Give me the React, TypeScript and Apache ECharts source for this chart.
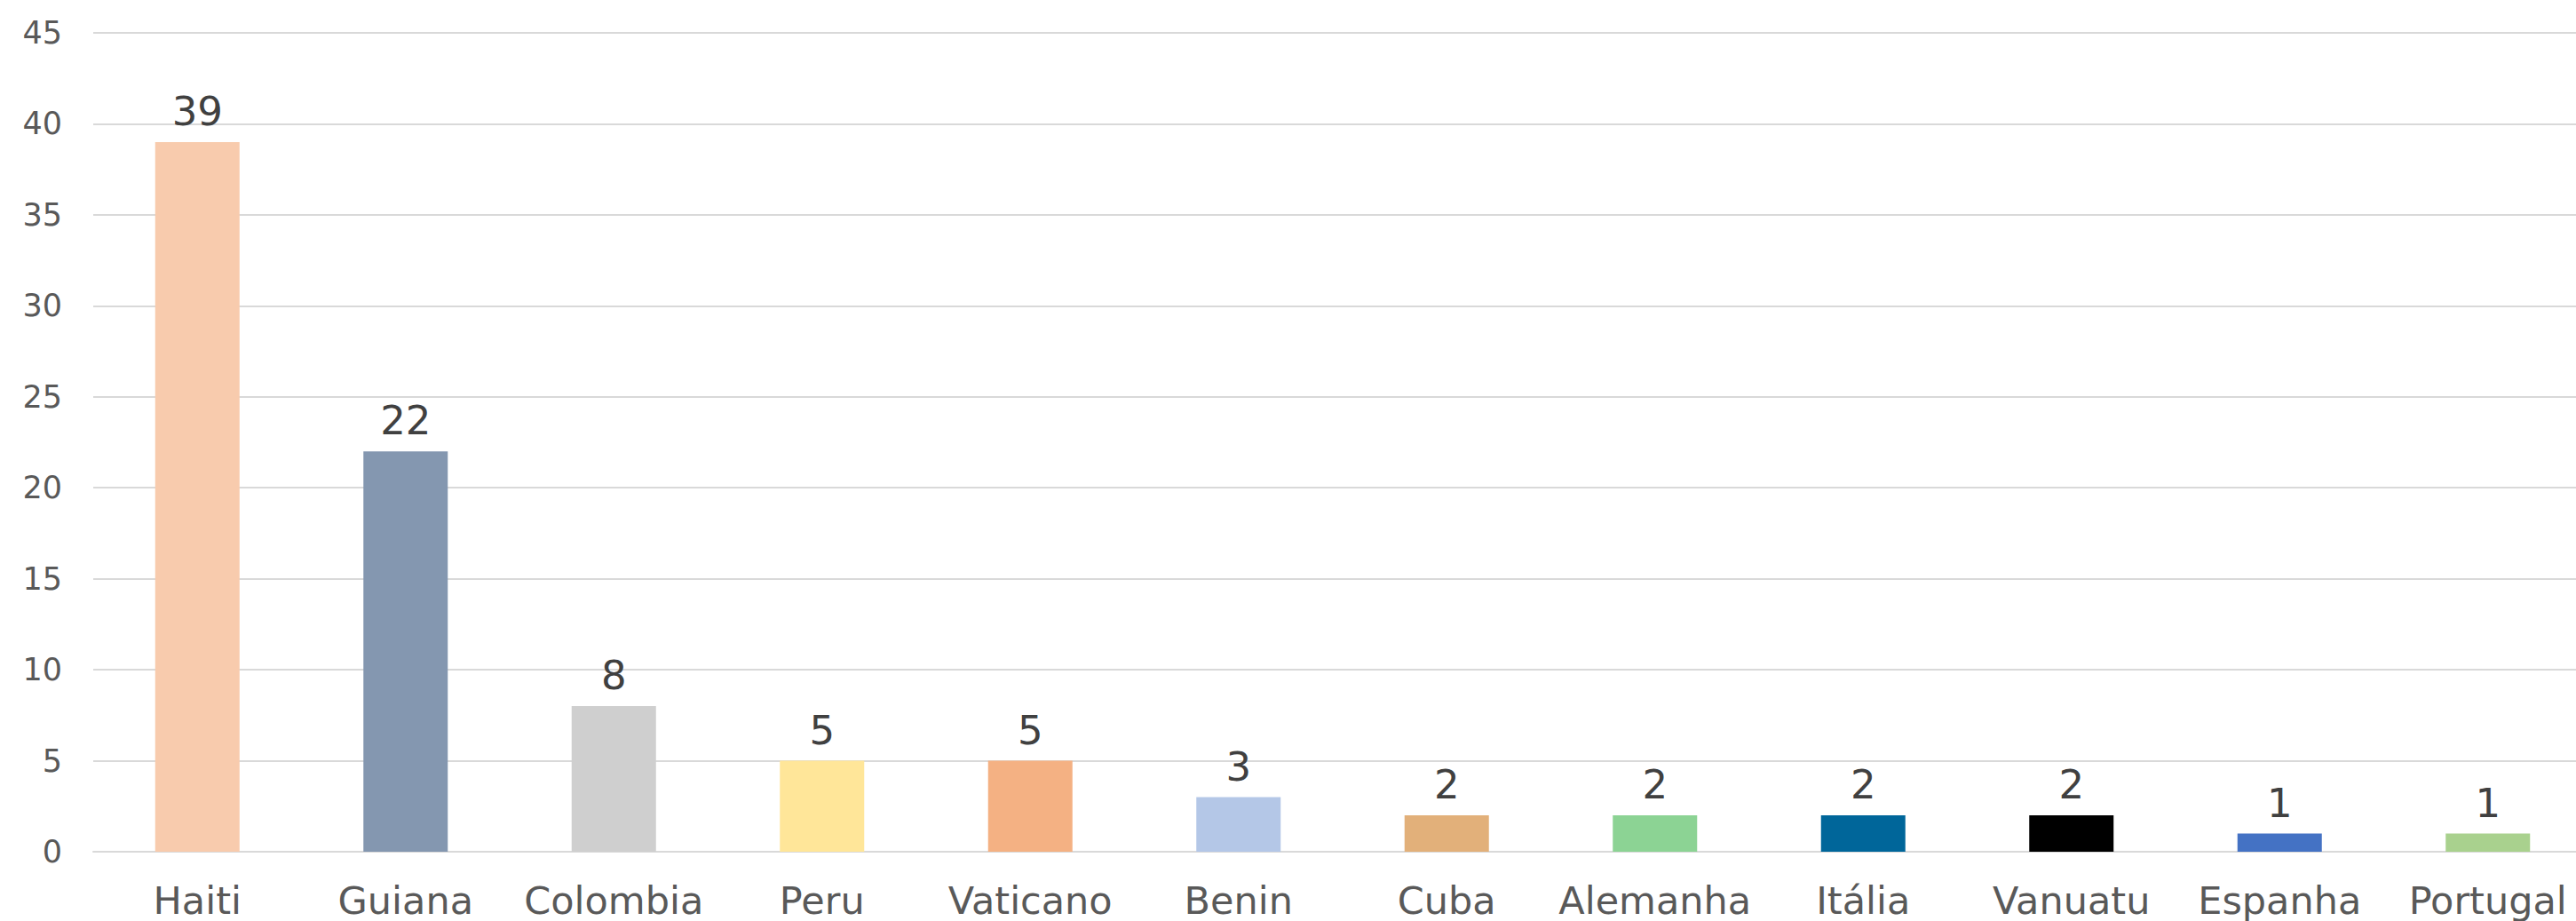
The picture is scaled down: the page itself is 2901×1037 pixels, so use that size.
import React, { useEffect, useRef } from "react";
import * as echarts from "echarts";

const categories = ["Haiti", "Guiana", "Colombia", "Peru", "Vaticano", "Benin", "Cuba", "Alemanha", "Itália", "Vanuatu", "Espanha", "Portugal"];
const values = [39, 22, 8, 5, 5, 3, 2, 2, 2, 2, 1, 1];
const barColors = ["#F8CBAD", "#8497B0", "#CFCFCF", "#FFE699", "#F4B183", "#B4C7E7", "#E2B07A", "#8CD394", "#00669A", "#000000", "#4472C4", "#A9D18E"];
const yMin = 0;
const yMax = 45;
const yStep = 5;

const FONT = "'DejaVu Sans', sans-serif";

export default function App() {
  const ref = useRef<HTMLDivElement>(null);
  useEffect(() => {
    if (!ref.current) return;
    const chart = echarts.init(ref.current, undefined, { renderer: "svg" });
    chart.setOption({
      animation: false,
      backgroundColor: "#ffffff",
      grid: { left: 105, top: 37, right: 11, height: 922, containLabel: false },
      xAxis: {
        type: "category",
        data: categories,
        axisLine: { show: true, lineStyle: { color: "#D9D9D9", width: 2 } },
        axisTick: { show: false },
        axisLabel: { color: "#595959", fontSize: 43, fontFamily: FONT, margin: 33, interval: 0 },
      },
      yAxis: {
        type: "value",
        min: yMin,
        max: yMax,
        interval: yStep,
        axisLine: { show: false },
        axisTick: { show: false },
        splitLine: { show: true, lineStyle: { color: "#D9D9D9", width: 2 } },
        axisLabel: { color: "#595959", fontSize: 35, fontFamily: FONT, margin: 35 },
      },
      series: [
        {
          type: "bar",
          data: values.map((v, i) => ({ value: v, itemStyle: { color: barColors[i] } })),
          barWidth: 95,
          label: {
            show: true,
            position: "top",
            distance: 12,
            color: "#404040",
            fontSize: 45,
            fontFamily: FONT,
          },
        },
      ],
    });
    return () => chart.dispose();
  }, []);
  return (
    <div style={{ position: "absolute", left: 0, top: 0, width: 2901, height: 1037, overflow: "hidden" }}>
      <div ref={ref} style={{ width: 2930, height: 1037 }} />
    </div>
  );
}
